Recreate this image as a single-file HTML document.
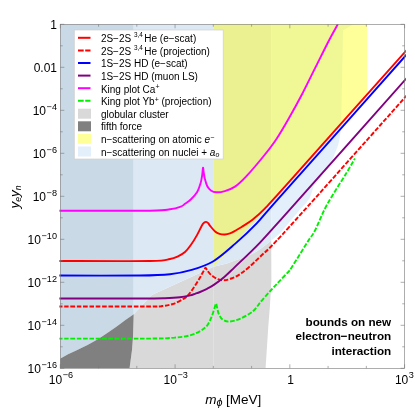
<!DOCTYPE html><html><head><meta charset="utf-8"><style>
html,body{margin:0;padding:0;background:#fff}
#w{will-change:transform;position:relative;width:415px;height:415px;overflow:hidden;background:#fff;font-family:"Liberation Sans",sans-serif;color:#000}
.t{position:absolute;white-space:nowrap;line-height:1}
sup{font-size:70%;vertical-align:baseline;position:relative;top:-0.52em;line-height:0;margin-right:0.8px}
.yl{font-size:12px;text-align:right;width:57px;left:0}
.yl sup,.xl sup{font-size:76%;top:-0.6em;margin-left:0.6px;margin-right:0}
.xl{font-size:12px;text-align:center;width:60px}
.lg{font-size:10px;left:100.9px}
.lg sup{font-size:64%;top:-0.82em;margin-right:1.4px}
.lg sup.p{font-size:70%;top:-0.5em;margin-right:0}
sub{font-size:70%;vertical-align:baseline;position:relative;top:0.22em;line-height:0}
</style></head><body><div id="w">
<svg width="415" height="415" viewBox="0 0 415 415" style="position:absolute;left:0;top:0">
<defs><clipPath id="c"><rect x="60.3" y="24.3" width="344.3" height="344.0"/></clipPath><clipPath id="c2"><rect x="59.4" y="24.3" width="346.40000000000003" height="344.0"/></clipPath></defs>
<g clip-path="url(#c)">
<path d="M133.70,314.20 L151.80,295.00 L213.50,266.70 L226.90,263.40 L235.00,260.40 L243.70,257.60 L249.50,254.90 L255.00,252.40 L259.60,249.60 L265.00,245.60 L271.20,240.40 L271.40,280.00 L270.00,305.00 L268.20,328.00 L265.60,368.00 L129.60,368.00 L132.00,350.00 L133.00,337.00 Z" fill="#d9d9d9"/>
<path d="M213.6,267V368.3" stroke="#e6e6e6" stroke-width="0.7" fill="none"/>
<clipPath id="zA"><path d="M58.00,24.00 L133.70,24.00 L133.70,314.20 L133.00,337.00 L132.00,350.00 L129.60,368.00 L60.00,368.00 Z"/></clipPath><clipPath id="zB"><path d="M133.70,24.00 L271.20,24.00 L271.20,240.00 L271.40,280.00 L270.00,305.00 L268.20,328.00 L265.60,368.00 L129.60,368.00 L132.00,350.00 L133.00,337.00 L133.70,314.20 Z"/></clipPath><clipPath id="zC"><path d="M271.20,24.00 L406.00,24.00 L406.00,368.00 L265.60,368.00 L268.20,328.00 L270.00,305.00 L271.40,280.00 L271.20,240.00 Z"/></clipPath>
<clipPath id="lbc"><path d="M60.00,24.00 L353.50,24.30 L343.00,30.60 L342.50,60.00 L341.10,128.00 L340.60,130.40 L339.70,138.80 L338.00,145.50 L334.70,154.00 L332.50,160.00 L329.00,165.00 L320.60,176.90 L313.90,185.30 L311.40,193.70 L309.70,198.00 L305.50,203.80 L301.30,208.00 L293.70,217.00 L285.20,227.30 L281.90,231.30 L277.00,236.00 L271.20,240.40 L265.00,245.60 L259.60,249.60 L255.00,252.40 L249.50,254.90 L243.70,257.60 L235.00,260.40 L226.90,263.40 L213.50,266.70 L151.80,295.00 L133.70,314.20 L125.40,319.90 L116.70,326.50 L108.00,332.50 L98.30,338.90 L87.50,344.90 L76.70,350.30 L68.00,354.20 L60.00,358.80 Z"/></clipPath>
<g clip-path="url(#zA)"><path d="M60.00,24.00 L353.50,24.30 L343.00,30.60 L342.50,60.00 L341.10,128.00 L340.60,130.40 L339.70,138.80 L338.00,145.50 L334.70,154.00 L332.50,160.00 L329.00,165.00 L320.60,176.90 L313.90,185.30 L311.40,193.70 L309.70,198.00 L305.50,203.80 L301.30,208.00 L293.70,217.00 L285.20,227.30 L281.90,231.30 L277.00,236.00 L271.20,240.40 L265.00,245.60 L259.60,249.60 L255.00,252.40 L249.50,254.90 L243.70,257.60 L235.00,260.40 L226.90,263.40 L213.50,266.70 L151.80,295.00 L133.70,314.20 L125.40,319.90 L116.70,326.50 L108.00,332.50 L98.30,338.90 L87.50,344.90 L76.70,350.30 L68.00,354.20 L60.00,358.80 Z" fill="#c9d9e6"/></g>
<g clip-path="url(#zB)"><path d="M60.00,24.00 L353.50,24.30 L343.00,30.60 L342.50,60.00 L341.10,128.00 L340.60,130.40 L339.70,138.80 L338.00,145.50 L334.70,154.00 L332.50,160.00 L329.00,165.00 L320.60,176.90 L313.90,185.30 L311.40,193.70 L309.70,198.00 L305.50,203.80 L301.30,208.00 L293.70,217.00 L285.20,227.30 L281.90,231.30 L277.00,236.00 L271.20,240.40 L265.00,245.60 L259.60,249.60 L255.00,252.40 L249.50,254.90 L243.70,257.60 L235.00,260.40 L226.90,263.40 L213.50,266.70 L151.80,295.00 L133.70,314.20 L125.40,319.90 L116.70,326.50 L108.00,332.50 L98.30,338.90 L87.50,344.90 L76.70,350.30 L68.00,354.20 L60.00,358.80 Z" fill="#dce9f5"/></g>
<g clip-path="url(#zC)"><path d="M60.00,24.00 L353.50,24.30 L343.00,30.60 L342.50,60.00 L341.10,128.00 L340.60,130.40 L339.70,138.80 L338.00,145.50 L334.70,154.00 L332.50,160.00 L329.00,165.00 L320.60,176.90 L313.90,185.30 L311.40,193.70 L309.70,198.00 L305.50,203.80 L301.30,208.00 L293.70,217.00 L285.20,227.30 L281.90,231.30 L277.00,236.00 L271.20,240.40 L265.00,245.60 L259.60,249.60 L255.00,252.40 L249.50,254.90 L243.70,257.60 L235.00,260.40 L226.90,263.40 L213.50,266.70 L151.80,295.00 L133.70,314.20 L125.40,319.90 L116.70,326.50 L108.00,332.50 L98.30,338.90 L87.50,344.90 L76.70,350.30 L68.00,354.20 L60.00,358.80 Z" fill="#e3f0fc"/></g>
<path d="M60.00,368.00 L60.00,358.80 L68.00,354.20 L76.70,350.30 L87.50,344.90 L98.30,338.90 L108.00,332.50 L116.70,326.50 L125.40,319.90 L133.70,314.20 L133.00,337.00 L132.00,350.00 L129.60,368.00 Z" fill="#808080"/>
<path d="M213.40,24.00 L367.10,24.00 L367.10,94.60 L213.40,267.36 Z" fill="#ffff99"/>
<g clip-path="url(#lbc)"><g clip-path="url(#zB)"><path d="M213.40,24.00 L367.10,24.00 L367.10,94.60 L213.40,267.36 Z" fill="#ebf191"/></g><g clip-path="url(#zC)"><path d="M213.40,24.00 L367.10,24.00 L367.10,94.60 L213.40,267.36 Z" fill="#f0f896"/></g></g>
</g><g clip-path="url(#c2)">
<path d="M58.00,338.60 C73.33,338.60 130.50,338.77 150.00,338.60 C169.50,338.43 168.33,338.13 175.00,337.60 C181.67,337.07 185.70,336.55 190.00,335.40 C194.30,334.25 197.92,332.38 200.80,330.70 C203.68,329.02 205.48,327.65 207.30,325.30 C209.12,322.95 210.50,319.48 211.70,316.60 C212.90,313.72 213.78,310.17 214.50,308.00 C215.22,305.83 215.55,303.60 216.00,303.60 C216.45,303.60 216.73,306.27 217.20,308.00 C217.67,309.73 217.92,312.10 218.80,314.00 C219.68,315.90 220.80,318.13 222.50,319.40 C224.20,320.67 226.10,321.70 229.00,321.60 C231.90,321.50 235.92,320.53 239.90,318.80 C243.88,317.07 249.28,314.20 252.90,311.20 C256.52,308.20 258.48,304.42 261.60,300.80 C264.72,297.18 268.53,292.87 271.60,289.50 C274.67,286.13 276.98,283.77 280.00,280.60 C283.02,277.43 288.08,272.18 289.70,270.50 C290.80,268.75 293.28,264.83 296.30,260.00 C299.32,255.17 304.68,246.42 307.80,241.50 C310.92,236.58 311.78,236.67 315.00,230.50 C318.22,224.33 321.87,214.07 327.10,204.50 C332.33,194.93 341.77,180.77 346.40,173.10 C351.03,165.43 353.48,160.93 354.90,158.50" fill="none" stroke="#00f000" stroke-width="1.9" stroke-dasharray="4.6,1.7" stroke-linejoin="round"/>
<path d="M58.00,306.50 C73.33,306.50 132.58,306.58 150.00,306.50 C167.42,306.42 158.60,306.45 162.50,306.00 C166.40,305.55 169.78,305.07 173.40,303.80 C177.02,302.53 181.50,300.13 184.20,298.40 C186.90,296.67 187.78,295.53 189.60,293.40 C191.42,291.27 193.28,288.38 195.10,285.60 C196.92,282.82 199.05,279.20 200.50,276.70 C201.95,274.20 202.97,272.12 203.80,270.60 C204.63,269.08 204.93,267.63 205.50,267.60 C206.07,267.57 206.45,269.37 207.20,270.40 C207.95,271.43 208.95,272.75 210.00,273.80 C211.05,274.85 212.17,275.80 213.50,276.70 C214.83,277.60 216.40,278.60 218.00,279.20 C219.60,279.80 221.10,280.33 223.10,280.30 C225.10,280.27 226.92,280.20 230.00,279.00 C233.08,277.80 236.60,276.78 241.60,273.10 C246.60,269.42 251.93,264.72 260.00,256.90 C268.07,249.08 265.33,253.31 290.00,226.16 C314.67,199.02 388.33,116.05 408.00,94.03" fill="none" stroke="#ff0000" stroke-width="1.9" stroke-dasharray="4.6,1.7" stroke-linejoin="round"/>
<path d="M58.00,298.50 C71.67,298.50 122.17,298.55 140.00,298.50 C157.83,298.45 158.33,298.40 165.00,298.20 C171.67,298.00 175.83,297.77 180.00,297.30 C184.17,296.83 187.50,295.98 190.00,295.40 C192.50,294.82 193.33,294.37 195.00,293.80 C196.67,293.23 198.00,292.83 200.00,292.00 C202.00,291.17 204.70,289.98 207.00,288.80 C209.30,287.62 210.97,286.82 213.80,284.90 C216.63,282.98 220.47,280.30 224.00,277.30 C227.53,274.30 229.00,272.68 235.00,266.90 C241.00,261.12 250.83,252.21 260.00,242.60 C269.17,232.99 265.33,236.92 290.00,209.26 C314.67,181.60 388.33,98.73 408.00,76.63" fill="none" stroke="#800080" stroke-width="1.9" stroke-linejoin="round"/>
<path d="M58.00,275.50 C71.67,275.50 121.33,275.72 140.00,275.50 C158.67,275.28 161.38,275.13 170.00,274.20 C178.62,273.27 184.47,272.07 191.70,269.90 C198.93,267.73 206.18,265.53 213.40,261.20 C220.62,256.87 227.78,250.22 235.00,243.90 C242.22,237.58 249.20,231.13 256.70,223.30 C264.20,215.47 254.78,225.28 280.00,196.90 C305.22,168.52 386.67,77.01 408.00,53.03" fill="none" stroke="#0000ff" stroke-width="1.9" stroke-linejoin="round"/>
<path d="M58.00,261.00 C73.33,261.00 131.33,261.33 150.00,261.00 C168.67,260.67 165.33,259.78 170.00,259.00 C174.67,258.22 175.50,257.47 178.00,256.30 C180.50,255.13 182.83,253.92 185.00,252.00 C187.17,250.08 189.00,247.62 191.00,244.80 C193.00,241.98 195.18,238.32 197.00,235.10 C198.82,231.88 200.73,227.55 201.90,225.50 C203.07,223.45 203.30,223.40 204.00,222.80 C204.70,222.20 205.40,221.83 206.10,221.90 C206.80,221.97 207.50,222.50 208.20,223.20 C208.90,223.90 209.15,224.72 210.30,226.10 C211.45,227.48 213.57,230.22 215.10,231.50 C216.63,232.78 217.88,233.30 219.50,233.80 C221.12,234.30 223.05,234.57 224.80,234.50 C226.55,234.43 228.30,234.00 230.00,233.40 C231.70,232.80 233.07,231.97 235.00,230.90 C236.93,229.83 238.63,228.90 241.60,227.00 C244.57,225.10 248.90,222.61 252.80,219.50 C256.70,216.39 258.80,214.79 265.00,208.36 C271.20,201.94 266.17,207.58 290.00,180.96 C313.83,154.34 388.33,70.68 408.00,48.63" fill="none" stroke="#ff0000" stroke-width="1.9" stroke-linejoin="round"/>
<path d="M58.00,210.70 C73.33,210.70 131.33,210.93 150.00,210.70 C168.67,210.47 164.87,209.98 170.00,209.30 C175.13,208.62 178.30,207.52 180.80,206.60 C183.30,205.68 183.30,205.03 185.00,203.80 C186.70,202.57 189.00,201.12 191.00,199.20 C193.00,197.28 195.38,195.05 197.00,192.30 C198.62,189.55 199.83,185.58 200.70,182.70 C201.57,179.82 201.82,177.52 202.20,175.00 C202.58,172.48 202.73,167.93 203.00,167.60 C203.27,167.27 203.48,171.08 203.80,173.00 C204.12,174.92 204.32,176.88 204.90,179.10 C205.48,181.32 206.30,184.40 207.30,186.30 C208.30,188.20 209.40,189.50 210.90,190.50 C212.40,191.50 213.98,192.20 216.30,192.30 C218.62,192.40 221.68,192.05 224.80,191.10 C227.92,190.15 231.47,189.02 235.00,186.60 C238.53,184.18 241.28,181.62 246.00,176.60 C250.72,171.58 258.25,162.73 263.30,156.50 C268.35,150.27 271.97,145.70 276.30,139.20 C280.63,132.70 284.97,125.08 289.30,117.50 C293.63,109.92 297.97,102.00 302.30,93.70 C306.63,85.40 310.97,76.37 315.30,67.70 C319.63,59.03 324.53,48.98 328.30,41.70 C332.07,34.42 336.30,26.95 337.90,24.00" fill="none" stroke="#ff00ff" stroke-width="1.9" stroke-linejoin="round"/>
</g>
<rect x="60.3" y="24.3" width="344.3" height="344.0" fill="none" stroke="#777" stroke-width="0.6"/>
<path d="M60.3,24.30h4M404.6,24.30h-4M60.3,45.80h2.4M404.6,45.80h-2.4M60.3,67.30h4M404.6,67.30h-4M60.3,88.80h2.4M404.6,88.80h-2.4M60.3,110.30h4M404.6,110.30h-4M60.3,131.80h2.4M404.6,131.80h-2.4M60.3,153.30h4M404.6,153.30h-4M60.3,174.80h2.4M404.6,174.80h-2.4M60.3,196.30h4M404.6,196.30h-4M60.3,217.80h2.4M404.6,217.80h-2.4M60.3,239.30h4M404.6,239.30h-4M60.3,260.80h2.4M404.6,260.80h-2.4M60.3,282.30h4M404.6,282.30h-4M60.3,303.80h2.4M404.6,303.80h-2.4M60.3,325.30h4M404.6,325.30h-4M60.3,346.80h2.4M404.6,346.80h-2.4M60.3,368.30h4M404.6,368.30h-4M60.30,368.3v-4M60.30,24.3v4M98.56,368.3v-2.4M98.56,24.3v2.4M136.81,368.3v-2.4M136.81,24.3v2.4M175.07,368.3v-4M175.07,24.3v4M213.32,368.3v-2.4M213.32,24.3v2.4M251.58,368.3v-2.4M251.58,24.3v2.4M289.83,368.3v-4M289.83,24.3v4M328.09,368.3v-2.4M328.09,24.3v2.4M366.34,368.3v-2.4M366.34,24.3v2.4M404.60,368.3v-4M404.60,24.3v4" stroke="#777" stroke-width="0.6" fill="none"/>
<rect x="74.3" y="30" width="148.9" height="129" fill="#fff" stroke="#d0d0d0" stroke-width="0.7"/>
<path d="M78,37.80h12.5" stroke="#ff0000" stroke-width="2"/>
<path d="M78,50.40h12.5" stroke="#ff0000" stroke-width="2" stroke-dasharray="5.7,1.5"/>
<path d="M78,63.00h12.5" stroke="#0000ff" stroke-width="2"/>
<path d="M78,75.60h12.5" stroke="#800080" stroke-width="2"/>
<path d="M78,88.20h12.5" stroke="#ff00ff" stroke-width="2"/>
<path d="M78,100.80h12.5" stroke="#00f000" stroke-width="2" stroke-dasharray="5.7,1.5"/>
<rect x="78" y="108.70" width="13" height="10" fill="#d9d9d9"/>
<rect x="78" y="121.30" width="13" height="10" fill="#808080"/>
<rect x="78" y="133.90" width="13" height="10" fill="#ffff99"/>
<rect x="78" y="146.50" width="13" height="10" fill="#e3f0fc"/>
</svg>
<div class="t yl" style="top:19.10px">1</div>
<div class="t yl" style="top:62.10px">0.01</div>
<div class="t yl" style="top:105.10px">10<sup>−4</sup></div>
<div class="t yl" style="top:148.10px">10<sup>−6</sup></div>
<div class="t yl" style="top:191.10px">10<sup>−8</sup></div>
<div class="t yl" style="top:234.10px">10<sup>−10</sup></div>
<div class="t yl" style="top:277.10px">10<sup>−12</sup></div>
<div class="t yl" style="top:320.10px">10<sup>−14</sup></div>
<div class="t yl" style="top:363.10px">10<sup>−16</sup></div>
<div class="t xl" style="left:30.90px;top:373.7px">10<sup>−6</sup></div>
<div class="t xl" style="left:145.67px;top:373.7px">10<sup>−3</sup></div>
<div class="t xl" style="left:260.63px;top:373.7px">1</div>
<div class="t xl" style="left:374.40px;top:373.7px">10<sup>3</sup></div>
<div class="t lg" style="top:34.20px">2S−2S <sup>3,4</sup>He (e−scat)</div>
<div class="t lg" style="top:46.80px">2S−2S <sup>3,4</sup>He (projection)</div>
<div class="t lg" style="top:59.40px">1S−2S HD (e−scat)</div>
<div class="t lg" style="top:72.00px">1S−2S HD (muon LS)</div>
<div class="t lg" style="top:84.60px">King plot Ca<sup class="p">+</sup></div>
<div class="t lg" style="top:97.20px">King plot Yb<sup class="p">+</sup> (projection)</div>
<div class="t lg" style="top:109.80px">globular cluster</div>
<div class="t lg" style="top:122.40px">fifth force</div>
<div class="t lg" style="top:135.00px">n−scattering on atomic <i>e</i><sup class="p">−</sup></div>
<div class="t lg" style="top:147.60px">n−scattering on nuclei + <i>a<sub>o</sub></i></div>
<div class="t" style="font-size:13.5px;left:205.3px;top:392.8px"><i>m<sub style="font-size:80%;top:0.2em;margin-left:0px">ϕ</sub></i><span style="margin-left:3.5px">[MeV]</span></div>
<div class="t" style="font-size:13.5px;left:14.6px;top:196.7px;transform:translate(-50%,-50%) rotate(-90deg);font-style:italic">y<sub style="top:0.27em;font-size:64%">e</sub>y<sub style="top:0.27em;font-size:64%">n</sub></div>
<div class="t" style="font-size:11.7px;font-weight:bold;text-align:right;right:23.8px;top:314.8px;line-height:14.4px">bounds on new<br>electron−neutron<br>interaction</div>
</div></body></html>
